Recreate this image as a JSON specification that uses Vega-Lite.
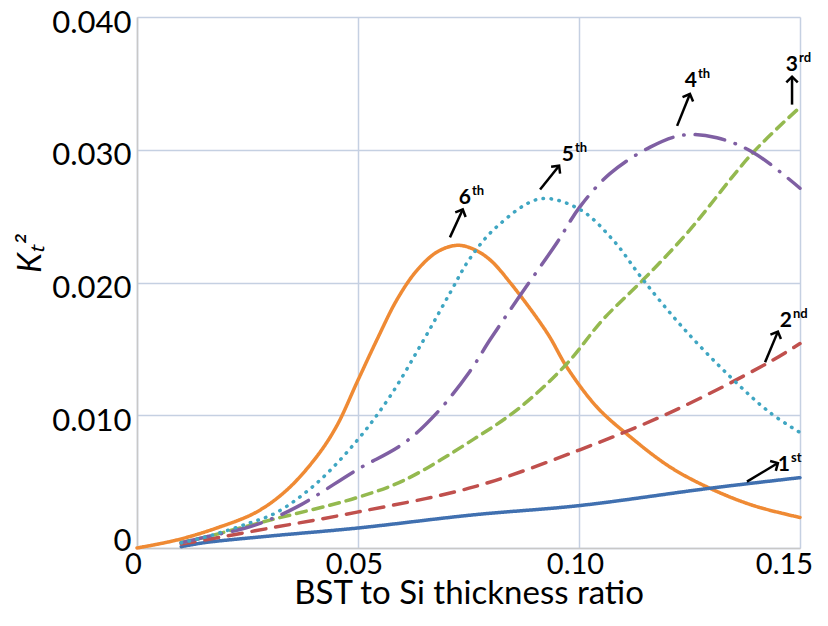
{
  "$schema": "https://vega.github.io/schema/vega-lite/v6.json",
  "width": 663,
  "height": 531,
  "autosize": "none",
  "padding": {"left": 137, "top": 17, "right": 28, "bottom": 78},
  "background": "white",
  "config": {"view": {"stroke": null}},
  "datasets": {
    "curves": [
      {"s": "6th", "x": 0, "y": 0}, {"s": "6th", "x": 0.009, "y": 0.0006}, {"s": "6th", "x": 0.018, "y": 0.0015}, {"s": "6th", "x": 0.027, "y": 0.0027}, {"s": "6th", "x": 0.034, "y": 0.0044}, {"s": "6th", "x": 0.0407, "y": 0.0069}, {"s": "6th", "x": 0.0452, "y": 0.0092}, {"s": "6th", "x": 0.0498, "y": 0.0125}, {"s": "6th", "x": 0.0543, "y": 0.0157}, {"s": "6th", "x": 0.0588, "y": 0.0187}, {"s": "6th", "x": 0.0633, "y": 0.0209}, {"s": "6th", "x": 0.0679, "y": 0.0223}, {"s": "6th", "x": 0.0724, "y": 0.0228}, {"s": "6th", "x": 0.0762, "y": 0.0225}, {"s": "6th", "x": 0.0799, "y": 0.0217}, {"s": "6th", "x": 0.0844, "y": 0.02}, {"s": "6th", "x": 0.0928, "y": 0.0162}, {"s": "6th", "x": 0.0973, "y": 0.0136}, {"s": "6th", "x": 0.1041, "y": 0.0106}, {"s": "6th", "x": 0.1115, "y": 0.0084}, {"s": "6th", "x": 0.1206, "y": 0.0061}, {"s": "6th", "x": 0.1296, "y": 0.0045}, {"s": "6th", "x": 0.1394, "y": 0.0032}, {"s": "6th", "x": 0.15, "y": 0.0023},
      {"s": "1st", "x": 0.01, "y": 0.0001}, {"s": "1st", "x": 0.0152, "y": 0.0004}, {"s": "1st", "x": 0.03, "y": 0.0009}, {"s": "1st", "x": 0.0498, "y": 0.0015}, {"s": "1st", "x": 0.0762, "y": 0.0025}, {"s": "1st", "x": 0.1002, "y": 0.0032}, {"s": "1st", "x": 0.1296, "y": 0.0045}, {"s": "1st", "x": 0.15, "y": 0.0053},
      {"s": "2nd", "x": 0.01, "y": 0.0003}, {"s": "2nd", "x": 0.0152, "y": 0.0006}, {"s": "2nd", "x": 0.0301, "y": 0.0015}, {"s": "2nd", "x": 0.0498, "y": 0.0027}, {"s": "2nd", "x": 0.0762, "y": 0.0046}, {"s": "2nd", "x": 0.1002, "y": 0.0074}, {"s": "2nd", "x": 0.1206, "y": 0.0102}, {"s": "2nd", "x": 0.1425, "y": 0.0139}, {"s": "2nd", "x": 0.15, "y": 0.0154},
      {"s": "3rd", "x": 0.01, "y": 0.0004}, {"s": "3rd", "x": 0.0152, "y": 0.0008}, {"s": "3rd", "x": 0.0301, "y": 0.0021}, {"s": "3rd", "x": 0.0498, "y": 0.0038}, {"s": "3rd", "x": 0.0604, "y": 0.0051}, {"s": "3rd", "x": 0.0762, "y": 0.0082}, {"s": "3rd", "x": 0.0867, "y": 0.0106}, {"s": "3rd", "x": 0.0973, "y": 0.0139}, {"s": "3rd", "x": 0.1054, "y": 0.0172}, {"s": "3rd", "x": 0.1145, "y": 0.0202}, {"s": "3rd", "x": 0.1244, "y": 0.0237}, {"s": "3rd", "x": 0.1394, "y": 0.0298}, {"s": "3rd", "x": 0.15, "y": 0.0332},
      {"s": "4th", "x": 0.01, "y": 0.0004}, {"s": "4th", "x": 0.0152, "y": 0.0008}, {"s": "4th", "x": 0.0265, "y": 0.0017}, {"s": "4th", "x": 0.0362, "y": 0.0031}, {"s": "4th", "x": 0.0498, "y": 0.0059}, {"s": "4th", "x": 0.0604, "y": 0.0079}, {"s": "4th", "x": 0.0679, "y": 0.0102}, {"s": "4th", "x": 0.0753, "y": 0.0133}, {"s": "4th", "x": 0.0799, "y": 0.0157}, {"s": "4th", "x": 0.086, "y": 0.0187}, {"s": "4th", "x": 0.095, "y": 0.023}, {"s": "4th", "x": 0.1002, "y": 0.0257}, {"s": "4th", "x": 0.107, "y": 0.0282}, {"s": "4th", "x": 0.1161, "y": 0.0302}, {"s": "4th", "x": 0.1235, "y": 0.0311}, {"s": "4th", "x": 0.1312, "y": 0.0309}, {"s": "4th", "x": 0.1394, "y": 0.0298}, {"s": "4th", "x": 0.15, "y": 0.0271},
      {"s": "5th", "x": 0.01, "y": 0.0004}, {"s": "5th", "x": 0.0152, "y": 0.0008}, {"s": "5th", "x": 0.0256, "y": 0.0019}, {"s": "5th", "x": 0.0317, "y": 0.0027}, {"s": "5th", "x": 0.0407, "y": 0.0049}, {"s": "5th", "x": 0.0498, "y": 0.0081}, {"s": "5th", "x": 0.0572, "y": 0.0114}, {"s": "5th", "x": 0.0649, "y": 0.0157}, {"s": "5th", "x": 0.0708, "y": 0.0192}, {"s": "5th", "x": 0.0753, "y": 0.0218}, {"s": "5th", "x": 0.0814, "y": 0.0242}, {"s": "5th", "x": 0.0912, "y": 0.0263}, {"s": "5th", "x": 0.1002, "y": 0.0255}, {"s": "5th", "x": 0.1077, "y": 0.0232}, {"s": "5th", "x": 0.1145, "y": 0.0202}, {"s": "5th", "x": 0.1235, "y": 0.0166}, {"s": "5th", "x": 0.1342, "y": 0.0129}, {"s": "5th", "x": 0.1432, "y": 0.0102}, {"s": "5th", "x": 0.15, "y": 0.0087}
    ],
    "notes": [
      {"num": "6", "sup": "th", "lx": 0.07556, "ly": 0.02637, "tx": 0.0708, "ty": 0.0234, "hx": 0.0737, "hy": 0.0255, "ang": 24},
      {"num": "5", "sup": "th", "lx": 0.09887, "ly": 0.0296, "tx": 0.0912, "ty": 0.027, "hx": 0.0955, "hy": 0.0288, "ang": 38},
      {"num": "4", "sup": "th", "lx": 0.12669, "ly": 0.03518, "tx": 0.1222, "ty": 0.0318, "hx": 0.1251, "hy": 0.0342, "ang": 22},
      {"num": "3", "sup": "rd", "lx": 0.14954, "ly": 0.03639, "tx": 0.1482, "ty": 0.0334, "hx": 0.1482, "hy": 0.0355, "ang": 0},
      {"num": "2", "sup": "nd", "lx": 0.14819, "ly": 0.0171, "tx": 0.1421, "ty": 0.014, "hx": 0.145, "hy": 0.0163, "ang": 23},
      {"num": "1", "sup": "st", "lx": 0.14773, "ly": 0.00625, "tx": 0.138, "ty": 0.005, "hx": 0.145, "hy": 0.0064, "ang": 60}
    ]
  },
  "layer": [
    {
      "data": {"name": "curves"},
      "mark": {"type": "line", "interpolate": "catmull-rom", "strokeWidth": 3.5, "strokeCap": "round"},
      "encoding": {
        "x": {
          "field": "x", "type": "quantitative",
          "scale": {"domain": [0, 0.15], "nice": false},
          "axis": {
            "values": [0, 0.05, 0.1, 0.15],
            "labelExpr": "datum.value == 0 ? '0' : format(datum.value, '.2f')",
            "title": "BST to Si thickness ratio",
            "titleFont": "Lato", "titleFontSize": 33, "titleFontWeight": "normal", "titleColor": "#000",
            "titlePadding": -2,
            "labelFont": "Lato", "labelFontSize": 29, "labelColor": "#000", "labelPadding": 2,
            "labelOffset": {"condition": {"test": "datum.value > 0.14", "value": -16}, "value": -4},
            "labelFlush": false, "labelOverlap": false,
            "ticks": false, "domainColor": "#c8c8c8", "domainWidth": 1.5,
            "grid": true, "gridColor": "#c5d0e2", "gridWidth": 1.5
          }
        },
        "y": {
          "field": "y", "type": "quantitative",
          "scale": {"domain": [0, 0.04], "nice": false},
          "axis": {
            "values": [0, 0.01, 0.02, 0.03, 0.04],
            "labelExpr": "datum.value == 0 ? '0' : format(datum.value, '.3f')",
            "title": "Kₜ²",
            "titleFont": "Lato", "titleFontSize": 32, "titleFontWeight": "normal", "titleFontStyle": "italic", "titleColor": "#000",
            "titlePadding": 4,
            "titleY": 236,
            "labelFont": "Lato", "labelFontSize": 31, "labelColor": "#000", "labelPadding": 6,
            "labelOffset": {"condition": {"test": "datum.value == 0", "value": -7}, "value": 6},
            "labelFlush": false, "labelOverlap": false,
            "ticks": false, "domainColor": "#c8c8c8", "domainWidth": 1.5,
            "grid": true, "gridColor": "#c5d0e2", "gridWidth": 1.5
          }
        },
        "color": {
          "field": "s", "type": "nominal", "legend": null,
          "scale": {"domain": ["1st", "2nd", "3rd", "4th", "5th", "6th"], "range": ["#4070b0", "#c0504d", "#94b94f", "#7f5fa3", "#3fa6c2", "#ef8a34"]}
        },
        "strokeDash": {
          "field": "s", "type": "nominal", "legend": null,
          "scale": {"domain": ["1st", "2nd", "3rd", "4th", "5th", "6th"], "range": [[1, 0], [14, 10], [10, 7], [30, 11, 0.5, 11], [0.5, 7.5], [1, 0]]}
        },
        "order": {"field": "x", "type": "quantitative"}
      }
    },
    {
      "data": {"name": "notes"},
      "mark": {"type": "rule", "color": "#000", "strokeWidth": 2.5},
      "encoding": {
        "x": {"field": "tx", "type": "quantitative"},
        "y": {"field": "ty", "type": "quantitative"},
        "x2": {"field": "hx"},
        "y2": {"field": "hy"}
      }
    },
    {
      "data": {"name": "notes"},
      "mark": {"type": "point", "shape": "M-1,1L0,0L1,1", "filled": false, "stroke": "#000", "strokeWidth": 2.5, "size": 130, "opacity": 1},
      "encoding": {
        "x": {"field": "hx", "type": "quantitative"},
        "y": {"field": "hy", "type": "quantitative"},
        "angle": {"field": "ang", "type": "quantitative", "scale": null}
      }
    },
    {
      "data": {"name": "notes"},
      "mark": {"type": "text", "font": "Lato", "fontWeight": "bold", "fontSize": 21, "align": "right", "baseline": "middle", "color": "#000"},
      "encoding": {
        "x": {"field": "lx", "type": "quantitative"},
        "y": {"field": "ly", "type": "quantitative"},
        "text": {"field": "num"}
      }
    },
    {
      "data": {"name": "notes"},
      "mark": {"type": "text", "font": "Lato", "fontWeight": "bold", "fontSize": 13, "align": "left", "baseline": "middle", "dx": 1, "dy": -7, "color": "#000"},
      "encoding": {
        "x": {"field": "lx", "type": "quantitative"},
        "y": {"field": "ly", "type": "quantitative"},
        "text": {"field": "sup"}
      }
    }
  ]
}
